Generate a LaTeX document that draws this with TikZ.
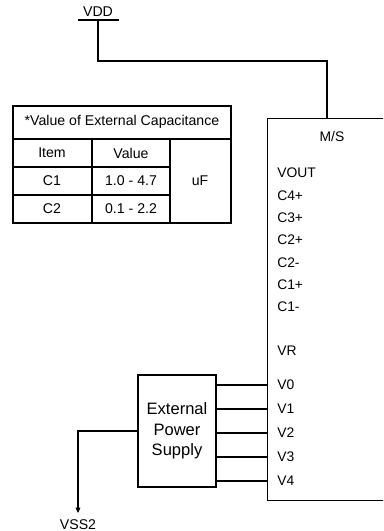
\documentclass[tikz,border=0pt]{standalone}
\usepackage{fontspec}
\setmainfont{Liberation Sans}
\usetikzlibrary{calc,arrows.meta}
\tikzset{
  wire/.style={line width=0.8pt},
  pinlabel/.style={anchor=west, inner sep=0pt, font=\fontsize{10.4}{12}\selectfont},
  celltext/.style={inner sep=0pt, font=\fontsize{10.6}{12}\selectfont},
  blockbox/.style={draw, line width=0.8pt, inner sep=0pt},
}
\begin{document}
\begin{tikzpicture}[x=0.75pt,y=-0.75pt]
\useasboundingbox (0,0) rectangle (383,531);
\clip (0,0) rectangle (383,531);
% VDD supply rail
\node[celltext] (vdd) at (98,12) {VDD};
\coordinate (vddpin) at (98,20);
\draw[wire] (78,20) -- (119,20);
% capacitance table
\draw[wire] (13,106) rectangle (231,223);
\draw[wire] (13,139) -- (231,139);
\draw[wire] (13,167) -- (170,167) (13,195) -- (170,195);
\draw[wire] (92,139) -- (92,223) (170,139) -- (170,223);
\node[celltext] (title) at (122,122) {*Value of External Capacitance};
\node[celltext] (item) at (52,153) {Item};
\node[celltext] (value) at (131,153) {Value};
\node[celltext] (cone) at (52,181) {C1};
\node[celltext] (conev) at (131,181) {1.0 - 4.7};
\node[celltext] (ctwo) at (52,209) {C2};
\node[celltext] (ctwov) at (131,209) {0.1 - 2.2};
\node[celltext] (unit) at (200,181) {uF};
% driver chip
\node[blockbox, minimum width=112.5pt, minimum height=286.5pt, anchor=north west] (ms) at (267,118) {};
\node[pinlabel, anchor=center] (mslabel) at (332,137) {M/S};
\foreach \name/\txt/\y in {vout/VOUT/173, cfourp/C4+/195.3, cthreep/C3+/217.7,
    ctwop/C2+/240, ctwom/C2-/262.3, conep/C1+/284.7, conem/C1-/307, vr/VR/351,
    v0/V0/385, v1/V1/409, v2/V2/433, v3/V3/457, v4/V4/481}
  \node[pinlabel] (\name) at (277,\y) {\txt};
% external power supply
\node[blockbox, minimum width=58.5pt, minimum height=84pt, align=center,
  font=\fontsize{12.4}{15.4}\selectfont] (eps) at (177,431) {External\\Power\\Supply};
\foreach \p in {v0,v1,v2,v3,v4}
  \draw[wire] (eps.east |- \p.west) -- (ms.west |- \p.west);
% wires
\draw[wire] (vddpin) -- ++(0,41) -| ($(ms.north west)+(60,0)$);
\coordinate (vssend) at (78,513);
\draw[wire,-{Triangle[length=4pt,width=3.5pt]}] (eps.west) -| (vssend);
\node[celltext] (vss) at (78,524.5) {VSS2};
\end{tikzpicture}
\end{document}
